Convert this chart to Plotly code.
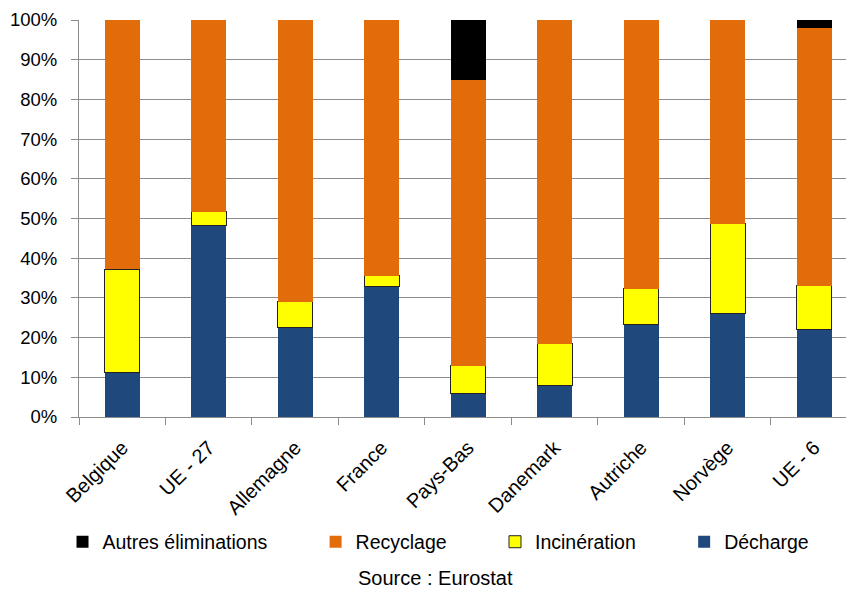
import plotly.graph_objects as go

categories = ["Belgique", "UE - 27", "Allemagne", "France", "Pays-Bas", "Danemark", "Autriche", "Norvège", "UE - 6"]
decharge = [11.2, 48.2, 22.6, 32.8, 5.9, 7.9, 23.3, 26.1, 22.1]
incineration = [26.0, 3.5, 6.4, 2.8, 7.0, 10.6, 9.0, 22.6, 11.0]
recyclage = [62.8, 48.3, 71.0, 64.4, 71.9, 81.5, 67.7, 51.3, 65.0]
autres = [0.0, 0.0, 0.0, 0.0, 15.2, 0.0, 0.0, 0.0, 1.9]

FONT = "Liberation Sans, Arial, sans-serif"
PAD = "\u00a0" * 8

fig = go.Figure()
fig.add_trace(go.Bar(x=categories, y=decharge, name="Décharge",
                     marker=dict(color="#1F497D", line=dict(width=0))))
fig.add_trace(go.Bar(x=categories, y=incineration, name="Incinération" + PAD,
                     marker=dict(color="#FFFF00", line=dict(width=1, color="#222222"))))
fig.add_trace(go.Bar(x=categories, y=recyclage, name="Recyclage" + PAD,
                     marker=dict(color="#E36C0A", line=dict(width=0))))
fig.add_trace(go.Bar(x=categories, y=autres, name="Autres éliminations" + PAD,
                     marker=dict(color="#000000", line=dict(width=0))))

fig.update_layout(
    barmode="stack",
    bargap=0.595,
    width=846, height=592,
    margin=dict(l=79, r=0, t=20, b=175),
    paper_bgcolor="white", plot_bgcolor="white",
    font=dict(family=FONT, size=20, color="#000000"),
    showlegend=True,
    legend=dict(orientation="h", traceorder="reversed", x=-0.0215, y=-0.315,
                xanchor="left", yanchor="middle", font=dict(size=19.5),
                itemwidth=30, bgcolor="rgba(0,0,0,0)"),
    xaxis=dict(range=[-0.5, 8.37], tickangle=-45, showgrid=False,
               showline=True, linecolor="#8c8c8c", linewidth=1,
               ticks="outside", tickson="boundaries", ticklen=7, tickcolor="#8c8c8c",
               tickfont=dict(size=20), ticklabelstandoff=10),
    yaxis=dict(range=[0, 100], dtick=10, ticksuffix="%", showgrid=True,
               gridcolor="#8c8c8c", gridwidth=1, showline=True, linecolor="#8c8c8c",
               ticks="outside", ticklen=7, tickcolor="#8c8c8c", zeroline=False,
               tickfont=dict(size=18.5), ticklabelstandoff=10),
    annotations=[dict(text="Source : Eurostat", xref="paper", yref="paper",
                      x=(435 - 79) / 767, y=-(578 - 417) / 397,
                      xanchor="center", yanchor="middle", showarrow=False,
                      font=dict(size=20))],
)

fig.write_html("out.html")
